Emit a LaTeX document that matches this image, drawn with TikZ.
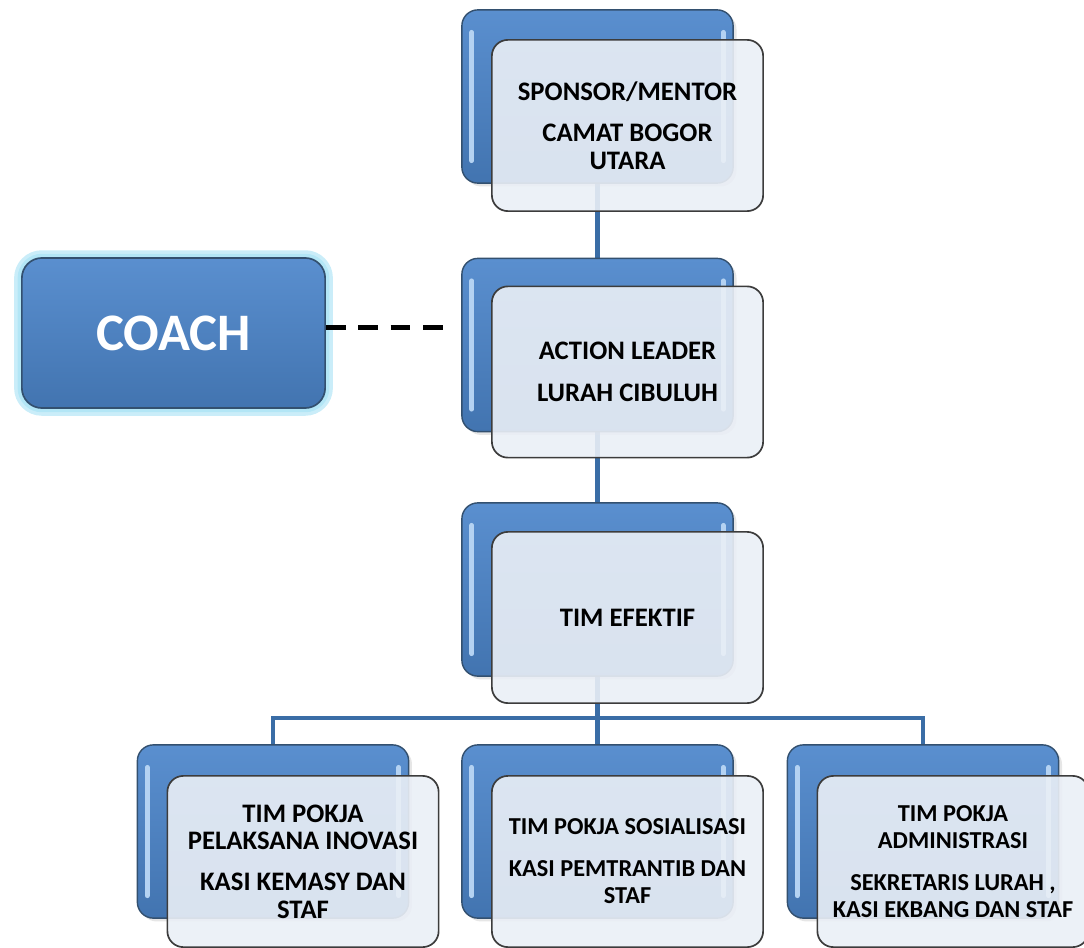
\documentclass[tikz,border=0pt]{standalone}
\usepackage{fontspec}
\setmainfont{Carlito}
\usetikzlibrary{positioning,backgrounds,shadows}

\definecolor{boxtop}{HTML}{5A8FCF}
\definecolor{boxbot}{HTML}{4274B0}
\definecolor{boxedge}{HTML}{33506F}
\definecolor{stripblue}{HTML}{B4D2F2}
\definecolor{frontfill}{HTML}{EAEFF6}
\definecolor{frontedge}{HTML}{3C3C3C}
\definecolor{linkblue}{HTML}{3A6DA6}
\definecolor{glowcyan}{HTML}{B3E6F6}

\begin{document}
\begin{tikzpicture}[x=0.025cm,y=-0.025cm,thick,
    back node/.style={rectangle,rounded corners=0.4cm,draw=boxedge,line width=1pt,
        top color=boxtop,bottom color=boxbot,minimum width=6.78cm,minimum height=4.33cm,
        drop shadow={opacity=0.2},
        path picture={
            \draw[stripblue,line width=3.5pt,line cap=round]
                ([xshift=7pt,yshift=-16pt]path picture bounding box.north west) --
                ([xshift=7pt,yshift=16pt]path picture bounding box.south west);
            \draw[stripblue,line width=3.5pt,line cap=round]
                ([xshift=-7pt,yshift=-16pt]path picture bounding box.north east) --
                ([xshift=-7pt,yshift=16pt]path picture bounding box.south east);}},
    front node/.style={rectangle,rounded corners=0.4cm,draw=frontedge,line width=1.2pt,
        fill=frontfill,fill opacity=0.9,text opacity=1,minimum width=6.78cm,
        minimum height=4.28cm,align=center,font=\fontsize{19}{19.5}\selectfont\bfseries},
    small text/.style={font=\fontsize{17.3}{19.5}\selectfont\bfseries},
    coach node/.style={rectangle,rounded corners=0.5cm,draw=boxedge,line width=1.2pt,
        top color=boxtop,bottom color=boxbot,minimum width=7.58cm,minimum height=3.75cm,
        preaction={draw=glowcyan,line width=11pt,opacity=0.7},
        preaction={draw=glowcyan,line width=6pt},
        text=white,font=\fontsize{37.5}{44}\selectfont\bfseries},
    link/.style={draw=linkblue,line width=3pt}]

\useasboundingbox (0,0) rectangle (1084,947);

% back boxes
\node[back node] (b1) at (597.5,96.5)  {};
\node[back node] (b2) at (597.5,345)   {};
\node[back node] (b3) at (597.5,589.5) {};
\node[back node] (b4) at (273,831.5)   {};
\node[back node] (b5) at (597.5,831.5) {};
\node[back node] (b6) at (923,831.5)   {};

% front boxes
\node[front node] (f1) at ([shift={(30,29)}]b1) {SPONSOR/MENTOR\\[10pt]CAMAT BOGOR\\UTARA};
\node[front node] (f2) at ([shift={(30,27)}]b2) {ACTION LEADER\\[10pt]LURAH CIBULUH};
\node[front node] (f3) at ([shift={(30,28)}]b3) {TIM EFEKTIF};
\node[front node] (f4) at ([shift={(30,30)}]b4) {TIM POKJA\\PELAKSANA INOVASI\\[10pt]KASI KEMASY DAN\\STAF};
\node[front node,small text] (f5) at ([shift={(30,30)}]b5) {TIM POKJA SOSIALISASI\\[10pt]KASI PEMTRANTIB DAN\\STAF};
\node[front node,small text] (f6) at ([shift={(30,30)}]b6) {TIM POKJA\\ADMINISTRASI\\[10pt]SEKRETARIS LURAH ,\\KASI EKBANG DAN STAF};

\node[coach node] (coach) at (173.5,333) {COACH};

\coordinate (hub) at (b3.south |- 0,718);

\begin{scope}[on background layer]
\path[link] (b1.south) -- (b2.north);
\path[link] (b2.south) -- (b3.north);
\path[link] (b3.south) -- (hub);
\path[link] (hub) -| (b4.north);
\path[link] (hub) -| (b6.north);
\path[link] (hub) -- (b5.north);
\end{scope}

\draw[black,line width=3.6pt,dash pattern=on 14pt off 9pt,shorten >=12]
    ([yshift=4pt]coach.east) -- ([yshift=4pt]coach.east -| b2.west);
\end{tikzpicture}
\end{document}
